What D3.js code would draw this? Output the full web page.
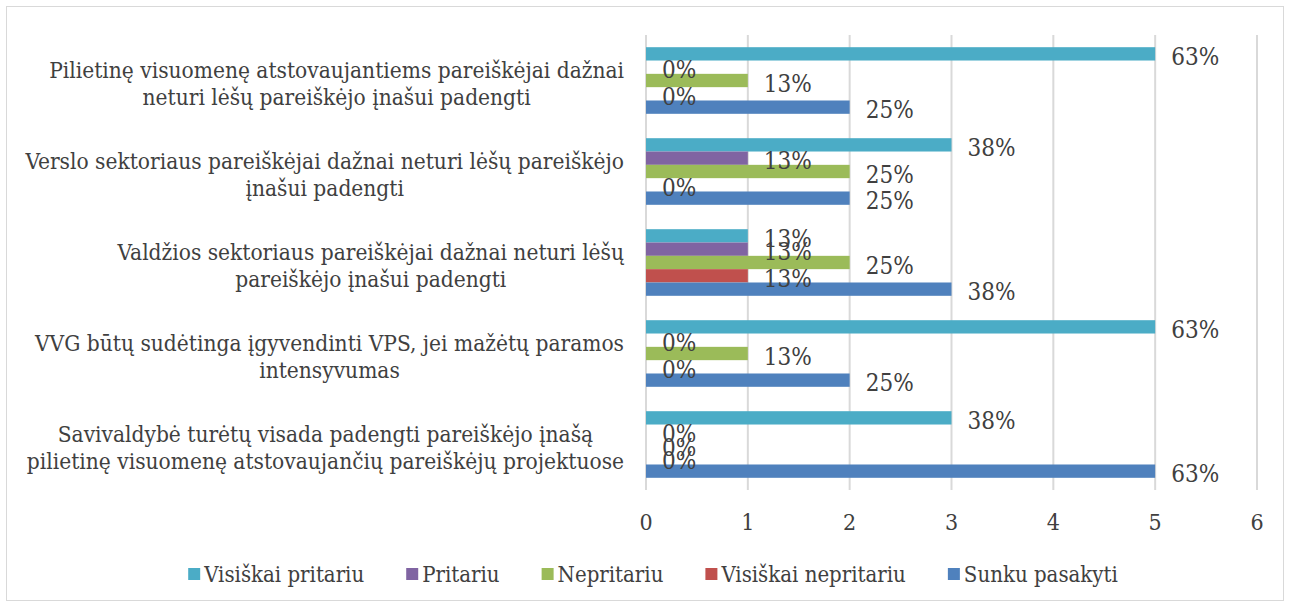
<!DOCTYPE html>
<html>
<head>
<meta charset="utf-8">
<script src="https://cdn.jsdelivr.net/npm/d3@7"></script>
<style>
  body { margin: 0; background: #fff; }
  svg text { font-family: "DejaVu Serif", serif; font-stretch: condensed; fill: #404040; }
</style>
</head>
<body>
<svg id="chart" width="1290" height="608"></svg>
<script>
// categories, top to bottom, already split into the two lines shown
const categories = [
    ["Pilietinę visuomenę atstovaujantiems pareiškėjai dažnai", "neturi lėšų pareiškėjo įnašui padengti"],
    ["Verslo sektoriaus pareiškėjai dažnai neturi lėšų pareiškėjo", "įnašui padengti"],
    ["Valdžios sektoriaus pareiškėjai dažnai neturi lėšų", "pareiškėjo įnašui padengti"],
    ["VVG būtų sudėtinga įgyvendinti VPS, jei mažėtų paramos", "intensyvumas"],
    ["Savivaldybė turėtų visada padengti pareiškėjo įnašą", "pilietinę visuomenę atstovaujančių pareiškėjų projektuose"]
];
const seriesNames = ["Visiškai pritariu", "Pritariu", "Nepritariu", "Visiškai nepritariu", "Sunku pasakyti"];
const seriesColors = ["#4BACC6", "#8064A2", "#9BBB59", "#C0504D", "#4F81BD"];

// respondent counts per category (same order as categories)
const visiskaiPritariu = [5, 3, 1, 5, 3];
const pritariu = [0, 1, 1, 0, 0];
const nepritariu = [1, 2, 2, 1, 0];
const visiskaiNepritariu = [0, 0, 1, 0, 0];
const sunkuPasakyti = [2, 2, 3, 2, 5];
const respondents = 8;
const xTicks = [0, 1, 2, 3, 4, 5, 6];

const seriesValues = [visiskaiPritariu, pritariu, nepritariu, visiskaiNepritariu, sunkuPasakyti];

const svg = d3.select("#chart");

svg.append("rect")
    .attr("x", 6.5).attr("y", 6.5)
    .attr("width", 1277).attr("height", 594)
    .attr("fill", "#fff")
    .attr("stroke", "#D9D9D9");

const x = d3.scaleLinear().domain([0, 6]).range([646, 1257]);
const y = d3.scaleBand()
    .domain(d3.range(categories.length))
    .range([35, 490])
    .paddingInner(0.268)
    .paddingOuter(0.134);
const ySeries = d3.scaleBand()
    .domain(d3.range(seriesNames.length))
    .range([0, y.bandwidth()]);

// vertical gridlines
svg.append("g")
    .selectAll("line")
    .data(xTicks)
    .join("line")
    .attr("x1", d => x(d)).attr("x2", d => x(d))
    .attr("y1", 35).attr("y2", 490)
    .attr("stroke", "#D9D9D9")
    .attr("stroke-width", 2);

// tick labels
svg.append("g")
    .selectAll("text")
    .data(xTicks)
    .join("text")
    .attr("x", d => x(d))
    .attr("y", 530)
    .attr("text-anchor", "middle")
    .attr("font-size", 23)
    .text(d => d);

// bars
const rows = [];
categories.forEach((c, ci) => {
    seriesValues.forEach((vals, si) => {
        rows.push({ ci, si, v: vals[ci] });
    });
});

const groups = svg.append("g");
groups.selectAll("rect")
    .data(rows)
    .join("rect")
    .attr("x", x(0))
    .attr("y", d => y(d.ci) + ySeries(d.si))
    .attr("width", d => x(d.v) - x(0))
    .attr("height", ySeries.bandwidth())
    .attr("fill", d => seriesColors[d.si]);

// data labels (share of respondents)
groups.selectAll("text")
    .data(rows)
    .join("text")
    .attr("x", d => x(d.v) + 16)
    .attr("y", d => y(d.ci) + ySeries(d.si) + ySeries.bandwidth() / 2 + 11)
    .attr("font-size", 24)
    .text(d => Math.round(d.v / respondents * 100) + "%");

// category labels, lines centred on each other, block right aligned
const catG = svg.append("g");
categories.forEach((lines, ci) => {
    const cy = y(ci) + y.bandwidth() / 2;
    const t = catG.append("text").attr("font-size", 22.5).attr("text-anchor", "middle");
    lines.forEach((l, li) => {
        t.append("tspan").attr("y", cy - 3 + li * 27).text(l);
    });
    let maxW = 0;
    t.selectAll("tspan").each(function() { maxW = Math.max(maxW, this.getComputedTextLength()); });
    t.selectAll("tspan").attr("x", 624 - maxW / 2);
});

// legend
const legend = svg.append("g");
const gap = 42;
let lx = 0;
seriesNames.forEach((name, i) => {
    const g = legend.append("g").attr("transform", `translate(${lx},0)`);
    g.append("rect").attr("x", 0).attr("y", -6).attr("width", 12).attr("height", 12)
        .attr("fill", seriesColors[i]);
    const t = g.append("text").attr("x", 16).attr("y", 8).attr("font-size", 22).text(name);
    lx += 16 + t.node().getComputedTextLength() + gap;
});
lx -= gap;
legend.attr("transform", `translate(${653 - lx / 2},574)`);
</script>
</body>
</html>
